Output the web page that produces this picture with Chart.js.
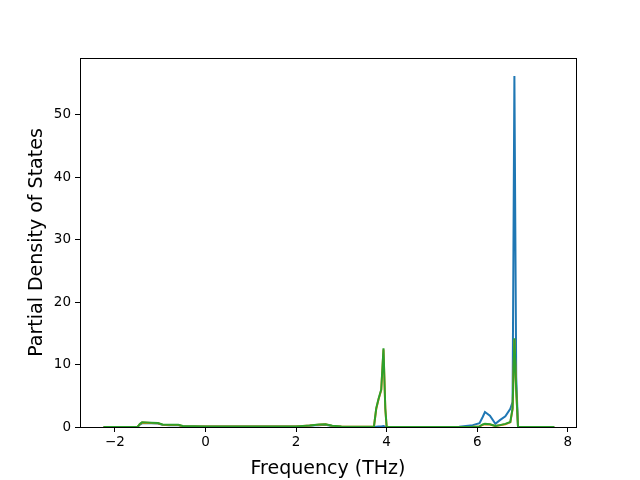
<!DOCTYPE html>
<html>
<head>
<meta charset="utf-8">
<script src="https://cdn.jsdelivr.net/npm/chart.js@4"></script>
<style>
  html, body { margin: 0; padding: 0; background: #fff; }
  #wrap { width: 640px; height: 480px; }
</style>
</head>
<body>
<div id="wrap"><canvas id="myCanvas" width="640" height="480"></canvas></div>
<script>
// frequency grid (THz) and partial DOS
var freq   = [-2.25, -1.5, -1.45, -1.4, -1.2, -1.05, -0.95, -0.8, -0.6, -0.5, 0, 1, 2, 2.3, 2.5, 2.65, 2.8, 3.0, 3.5, 3.72, 3.77, 3.82, 3.88, 3.93, 3.97, 4.0, 4.5, 5.0, 5.6, 5.9, 6.05, 6.12, 6.17, 6.28, 6.4, 6.5, 6.62, 6.73, 6.78, 6.82, 6.86, 6.9, 7.2, 7.7];
var dosBlue  = [0, 0, 0.4, 0.6, 0.6, 0.55, 0.35, 0.3, 0.3, 0.1, 0.08, 0.08, 0.08, 0.2, 0.3, 0.35, 0.15, 0.05, 0.02, 0, 0.05, 0.08, 0.1, 0.15, 0.05, 0, 0, 0, 0.05, 0.3, 0.6, 1.6, 2.4, 1.8, 0.5, 1.1, 1.7, 2.9, 4, 56.2, 8, 0, 0, 0];
var dosOrange = [0, 0, 0.45, 0.7, 0.65, 0.6, 0.38, 0.33, 0.33, 0.13, 0.1, 0.1, 0.1, 0.24, 0.38, 0.42, 0.18, 0.08, 0.04, 0.08, 2.9, 4.4, 5.9, 12.4, 2.9, 0, 0, 0, 0, 0.05, 0.1, 0.35, 0.45, 0.4, 0.15, 0.28, 0.45, 0.75, 2.8, 14.0, 5.8, 0, 0, 0];
var dosGreen = [0, 0, 0.5, 0.75, 0.7, 0.65, 0.4, 0.35, 0.35, 0.15, 0.1, 0.1, 0.1, 0.25, 0.4, 0.45, 0.2, 0.1, 0.05, 0.1, 3.0, 4.5, 6.0, 12.6, 3.0, 0, 0, 0, 0, 0.05, 0.1, 0.4, 0.5, 0.45, 0.15, 0.3, 0.5, 0.8, 3.0, 14.2, 6.0, 0, 0, 0];
var xTicks = [-2, 0, 2, 4, 6, 8];
var yTicks = [0, 10, 20, 30, 40, 50];

function pts(ys) {
  return freq.map(function (f, i) { return { x: f, y: ys[i] }; });
}

// black frame round the plot area, like matplotlib spines
var frame = {
  id: 'frame',
  afterDraw: function (chart) {
    var a = chart.chartArea, c = chart.ctx;
    c.save();
    c.strokeStyle = '#000';
    c.lineWidth = 1;
    c.strokeRect(Math.round(a.left) + 0.5, Math.round(a.top) + 0.5, Math.round(a.right - a.left), Math.round(a.bottom - a.top));
    c.restore();
  }
};

var font = 'DejaVu Sans';
var ctx = document.getElementById('myCanvas').getContext('2d');
var myChart = new Chart(ctx, {
  type: 'line',
  data: {
    datasets: [
      // lower order is painted on top, so green ends up last like in matplotlib
      { data: pts(dosBlue), borderColor: '#1f77b4', borderWidth: 2, pointRadius: 0, tension: 0, order: 2 },
      { data: pts(dosOrange), borderColor: '#ff7f0e', borderWidth: 2, pointRadius: 0, tension: 0, order: 1 },
      { data: pts(dosGreen), borderColor: '#2ca02c', borderWidth: 2, pointRadius: 0, tension: 0, order: 0 }
    ]
  },
  options: {
    responsive: false,
    animation: false,
    layout: { padding: { top: 58, right: 64, left: 0, bottom: 0 } },
    plugins: { legend: { display: false }, tooltip: { enabled: false } },
    scales: {
      x: {
        type: 'linear',
        min: -2.77,
        max: 8.18,
        afterBuildTicks: function (s) { s.ticks = xTicks.map(function (v) { return { value: v }; }); },
        afterFit: function (s) { s.height = 53; },
        ticks: {
          color: '#000', font: { family: font, size: 13.5 }, padding: 2,
          maxRotation: 0,
          callback: function (v) { return v < 0 ? '\u2212' + Math.abs(v) : v; }
        },
        grid: { drawOnChartArea: false, tickLength: 5, tickColor: '#000', color: '#000' },
        border: { color: '#000' },
        title: { display: true, text: 'Frequency (THz)', color: '#000', font: { family: font, size: 19 }, padding: { top: 0, bottom: 0 } }
      },
      y: {
        min: 0,
        max: 59.1,
        afterBuildTicks: function (s) { s.ticks = yTicks.map(function (v) { return { value: v }; }); },
        afterFit: function (s) { s.width = 80; },
        ticks: { color: '#000', font: { family: font, size: 13.5 }, padding: 4 },
        grid: { drawOnChartArea: false, tickLength: 5, tickColor: '#000', color: '#000' },
        border: { color: '#000' },
        title: { display: true, text: 'Partial Density of States', color: '#000', font: { family: font, size: 19 }, padding: { top: 26, bottom: 0 } }
      }
    }
  },
  plugins: [frame]
});
</script>
</body>
</html>
